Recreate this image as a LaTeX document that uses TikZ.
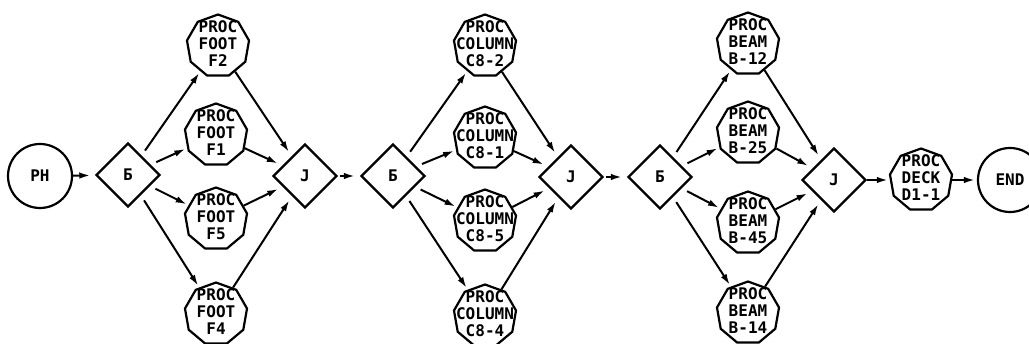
\documentclass[tikz,border=0pt]{standalone}
\usepackage{fontspec}
\newfontfamily\plotfont{DejaVu Sans Mono}
\usetikzlibrary{shapes.geometric,arrows.meta}
\tikzset{
  base/.style={draw,line width=2.2pt,inner sep=0pt},
  circ/.style={base,circle,minimum size=64pt},
  gate/.style={base,diamond,minimum width=64pt,minimum height=64pt},
  proc/.style={base,regular polygon,regular polygon sides=9,minimum size=63pt},
  ptext/.style={inner sep=0pt,align=center,font=\plotfont\bfseries\fontsize{16}{17}\selectfont,yshift=2pt},
  gtext/.style={font=\plotfont\bfseries\fontsize{16}{17}\selectfont},
  conn/.style={line width=2pt,-{Latex[length=11pt,width=6.5pt]},shorten >=2pt},
  fromg/.style={conn,shorten <=6pt},
  tog/.style={conn,shorten >=5pt},
}
\begin{document}
\begin{tikzpicture}[x=1pt,y=-1pt]
\useasboundingbox (0,0) rectangle (1029,344);
% nodes
\node[circ,gtext] (ph) at (40,176) {PH};
\node[gate,gtext] (g1) at (128,175) {Б};
\node[proc] (f2) at (218,46) {};
\node[proc] (f1) at (216,135) {};
\node[proc] (f5) at (216,219) {};
\node[proc] (f4) at (216,314) {};
\node[ptext] at (f2) {PROC\\FOOT\\F2};
\node[ptext] at (f1) {PROC\\FOOT\\F1};
\node[ptext] at (f5) {PROC\\FOOT\\F5};
\node[ptext] at (f4) {PROC\\FOOT\\F4};
\node[gate,gtext] (j1) at (305,176) {J};
\node[gate,gtext] (g2) at (393,176) {Б};
\node[proc] (c2) at (485,46) {};
\node[proc] (c1) at (485,138) {};
\node[proc] (c5) at (485,221) {};
\node[proc] (c4) at (485,316) {};
\node[ptext] at (c2) {PROC\\COLUMN\\C8-2};
\node[ptext] at (c1) {PROC\\COLUMN\\C8-1};
\node[ptext] at (c5) {PROC\\COLUMN\\C8-5};
\node[ptext] at (c4) {PROC\\COLUMN\\C8-4};
\node[gate,gtext] (j2) at (571,177) {J};
\node[gate,gtext] (g3) at (660,177) {Б};
\node[proc] (b12) at (748,44) {};
\node[proc] (b25) at (748,133) {};
\node[proc] (b45) at (748,223) {};
\node[proc] (b14) at (748,313) {};
\node[ptext] at (b12) {PROC\\BEAM\\B-12};
\node[ptext] at (b25) {PROC\\BEAM\\B-25};
\node[ptext] at (b45) {PROC\\BEAM\\B-45};
\node[ptext] at (b14) {PROC\\BEAM\\B-14};
\node[gate,gtext] (j3) at (834,180) {J};
\node[proc] (d1) at (921,180) {};
\node[ptext] at (d1) {PROC\\DECK\\D1-1};
\node[circ,gtext] (end) at (1010,180) {END};
% connectors
\draw[tog] (ph) -- (g1);
\foreach \t in {f2,f1,f5,f4} { \draw[fromg] (g1) -- (\t); \draw[tog] (\t) -- (j1); }
\draw[tog,shorten <=2pt] (j1) -- (g2);
\foreach \t in {c2,c1,c5,c4} { \draw[fromg] (g2) -- (\t); \draw[tog] (\t) -- (j2); }
\draw[tog,shorten <=2pt] (j2) -- (g3);
\foreach \t in {b12,b25,b45,b14} { \draw[fromg] (g3) -- (\t); \draw[tog] (\t) -- (j3); }
\draw[conn] (j3) -- (d1);
\draw[conn] (d1) -- (end);
\end{tikzpicture}
\end{document}
